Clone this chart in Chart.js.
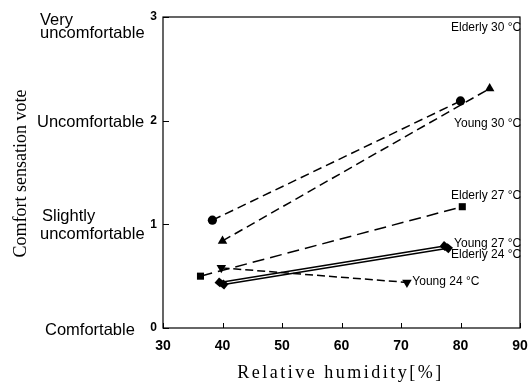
<!DOCTYPE html>
<html>
<head>
<meta charset="utf-8">
<script src="https://cdn.jsdelivr.net/npm/chart.js@4.4.1/dist/chart.umd.min.js"></script>
<style>
  html, body { margin: 0; padding: 0; background: #fff; }
  #wrap { width: 531px; height: 383px; position: relative; }
</style>
</head>
<body>
<div id="wrap"><canvas id="c" width="531" height="383"></canvas></div>
<script>
// ---- Data ----
const seriesNames = ['Elderly 30 °C', 'Young 30 °C', 'Elderly 27 °C', 'Young 27 °C', 'Elderly 24 °C', 'Young 24 °C'];
const humidityElderly30 = [38.3, 80.0];
const voteElderly30     = [1.04, 2.19];
const humidityYoung30   = [40.0, 84.9];
const voteYoung30       = [0.84, 2.31];
const humidityElderly27 = [36.3, 80.3];
const voteElderly27     = [0.50, 1.17];
const humidityYoung27   = [39.5, 77.3];
const voteYoung27       = [0.44, 0.79];
const humidityElderly24 = [40.2, 77.9];
const voteElderly24     = [0.42, 0.77];
const humidityYoung24   = [39.8, 71.0];
const voteYoung24       = [0.58, 0.44];

const xTickValues = [30, 40, 50, 60, 70, 80, 90];
const yTickValues = [0, 1, 2, 3];
const comfortLabels = ['Comfortable', 'Slightly\nuncomfortable', 'Uncomfortable', 'Very\nuncomfortable'];
const xTitle = 'Relative humidity[%]';
const yTitle = 'Comfort sensation vote';

function pts(xs, ys) { return xs.map((x, i) => ({ x: x, y: ys[i] })); }

const styles = [
  { dash: [9, 5],  point: 'circle',   rot: 0,   r: 4.6 },
  { dash: [9, 5],  point: 'triangle', rot: 0,   r: 5.5 },
  { dash: [12, 6], point: 'rect',     rot: 0,   r: 5 },
  { dash: [],      point: 'rect',     rot: 40,  r: 5 },
  { dash: [],      point: 'rect',     rot: 40,  r: 5 },
  { dash: [8, 4],  point: 'triangle', rot: 180, r: 5.5 }
];
const seriesData = [
  pts(humidityElderly30, voteElderly30),
  pts(humidityYoung30, voteYoung30),
  pts(humidityElderly27, voteElderly27),
  pts(humidityYoung27, voteYoung27),
  pts(humidityElderly24, voteElderly24),
  pts(humidityYoung24, voteYoung24)
];

const datasets = seriesNames.map((n, i) => ({
  label: n,
  data: seriesData[i],
  showLine: true,
  borderColor: '#000',
  borderWidth: 1.5,
  borderDash: styles[i].dash,
  pointStyle: styles[i].point,
  pointRotation: styles[i].rot,
  pointRadius: styles[i].r,
  pointBackgroundColor: '#000',
  pointBorderColor: '#000',
  pointBorderWidth: 0,
  fill: false
}));

// Label anchors in data units: [xValue, yValue, align]
const labelAnchors = [
  [90.2, 2.90, 'right'],
  [90.2, 1.97, 'right'],
  [90.2, 1.28, 'right'],
  [90.2, 0.81, 'right'],
  [90.2, 0.71, 'right'],
  [71.9, 0.45, 'left']
];

const decor = {
  id: 'decor',
  afterDraw(chart) {
    const ctx = chart.ctx;
    const a = chart.chartArea;
    const xs = chart.scales.x, ys = chart.scales.y;
    ctx.save();
    // frame
    ctx.strokeStyle = '#000';
    ctx.lineWidth = 1.2;
    ctx.strokeRect(a.left, a.top, a.right - a.left, a.bottom - a.top);
    // inward ticks
    ctx.lineWidth = 1;
    ctx.beginPath();
    xTickValues.forEach(v => {
      const px = Math.round(xs.getPixelForValue(v)) + 0.5;
      ctx.moveTo(px, a.bottom); ctx.lineTo(px, a.bottom - 5);
    });
    yTickValues.forEach(v => {
      const py = Math.round(ys.getPixelForValue(v)) + 0.5;
      ctx.moveTo(a.left, py); ctx.lineTo(a.left + 6, py);
    });
    ctx.stroke();
    // comfort category labels
    ctx.fillStyle = '#000';
    ctx.font = '16.5px "Liberation Sans", Arial, sans-serif';
    ctx.textBaseline = 'middle';
    ctx.textAlign = 'left';
    const catX = [45, 40, 37, 40];
    comfortLabels.forEach((t, i) => {
      const py = ys.getPixelForValue(yTickValues[i]);
      const lines = t.split('\n');
      if (lines.length === 1) {
        ctx.fillText(lines[0], catX[i], py + 2);
      } else {
        const off = i === 3 ? [3, 16] : [-8, 10];
        ctx.fillText(lines[0], catX[i] + (i === 1 ? 2 : 0), py + off[0]);
        ctx.fillText(lines[1], catX[i], py + off[1]);
      }
    });
    // series labels
    ctx.font = '12px "Liberation Sans", Arial, sans-serif';
    seriesNames.forEach((n, i) => {
      const an = labelAnchors[i];
      ctx.textAlign = an[2];
      ctx.fillText(n, xs.getPixelForValue(an[0]), ys.getPixelForValue(an[1]));
    });
    // axis titles
    ctx.font = '18px "Liberation Serif", "Times New Roman", serif';
    ctx.textAlign = 'center';
    try { ctx.letterSpacing = '2.5px'; } catch (e) {}
    ctx.fillText(xTitle, (a.left + a.right) / 2 - 1, 373);
    try { ctx.letterSpacing = '0px'; } catch (e) {}
    ctx.translate(21, (a.top + a.bottom) / 2 + 1);
    ctx.rotate(-Math.PI / 2);
    ctx.fillText(yTitle, 0, 0);
    ctx.restore();
  }
};

new Chart(document.getElementById('c'), {
  type: 'scatter',
  data: { datasets: datasets },
  options: {
    responsive: false,
    animation: false,
    layout: { padding: { left: 0, top: 17, right: 11, bottom: 0 } },
    plugins: { legend: { display: false }, tooltip: { enabled: false } },
    scales: {
      x: {
        type: 'linear', min: 30, max: 90,
        afterBuildTicks(s) { s.ticks = xTickValues.map(v => ({ value: v })); },
        grid: { display: false, drawTicks: false },
        border: { display: false },
        ticks: { padding: 10, color: '#000', font: { family: 'Liberation Sans', size: 14, weight: 'bold' } },
        afterFit(s) { s.height = 55; s.paddingLeft = 0; s.paddingRight = 0; }
      },
      y: {
        type: 'linear', min: 0, max: 3,
        afterBuildTicks(s) { s.ticks = yTickValues.map(v => ({ value: v })); },
        grid: { display: false, drawTicks: false },
        border: { display: false },
        ticks: { padding: 6, color: '#000', font: { family: 'Liberation Sans', size: 12, weight: 'bold' } },
        afterFit(s) { s.width = 163; s.paddingTop = 0; s.paddingBottom = 0; }
      }
    }
  },
  plugins: [decor]
});
</script>
</body>
</html>
